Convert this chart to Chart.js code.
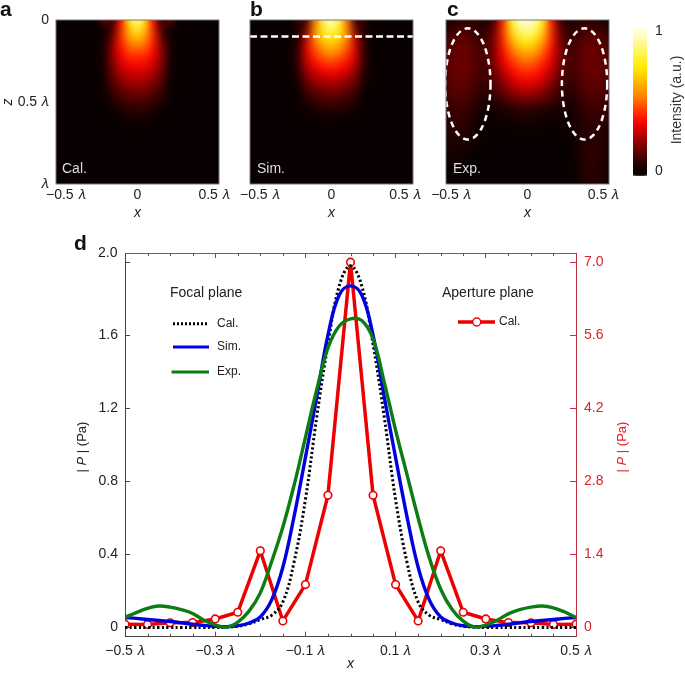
<!DOCTYPE html>
<html>
<head>
<meta charset="utf-8">
<title>Focal plane pressure</title>
<script src="https://cdn.jsdelivr.net/npm/chart.js@4"></script>
<style>
    body { margin: 0; background: #fff; }
    canvas { position: absolute; }
</style>
</head>
<body>
<canvas id="panel-a" style="left:0px;top:0px" width="240" height="222"></canvas>
<canvas id="panel-b" style="left:236px;top:0px" width="200" height="222"></canvas>
<canvas id="panel-c" style="left:426px;top:0px" width="200" height="222"></canvas>
<canvas id="panel-bar" style="left:620px;top:0px" width="65" height="222"></canvas>
<canvas id="panel-d" style="left:0px;top:225px" width="685" height="448"></canvas>
<script>
const lam = "\u{1D706}";

// heat maps, intensity in percent: one list per x column, running down z, missing rows are 0
const heatX = [-0.5, -0.45, -0.4, -0.35, -0.3, -0.25, -0.2, -0.15, -0.1, -0.05, 0, 0.05, 0.1, 0.15, 0.2, 0.25, 0.3, 0.35, 0.4, 0.45, 0.5];
const heatZ = [0, 0.05, 0.1, 0.15, 0.2, 0.25, 0.3, 0.35, 0.4, 0.45, 0.5, 0.55, 0.6, 0.65, 0.7, 0.75, 0.8, 0.85, 0.9, 0.95, 1];

const calColumns = [
    [], [], [], [], [], [],
    [22, 1, 1, 2, 2, 2, 2, 1, 1],
    [5, 8, 14, 20, 22, 20, 18, 15, 11, 7, 4, 1],
    [35, 38, 40, 38, 35, 31, 27, 22, 17, 12, 7, 3, 1],
    [75, 68, 60, 52, 44, 38, 32, 26, 21, 15, 10, 6, 2],
    [100, 82, 68, 55, 45, 38, 32, 27, 22, 16, 11, 6, 2, 1],
    [75, 68, 60, 52, 44, 38, 32, 26, 21, 15, 10, 6, 2],
    [35, 38, 40, 38, 35, 31, 27, 22, 17, 12, 7, 3, 1],
    [5, 8, 14, 20, 22, 20, 18, 15, 11, 7, 4, 1],
    [22, 1, 1, 2, 2, 2, 2, 1, 1],
    [], [], [], [], [], [],
];
const simColumns = [
    [], [], [], [], [], [],
    [10, 2, 4, 6, 7, 7, 5, 3, 2],
    [8, 14, 24, 30, 31, 28, 24, 19, 13, 8, 4, 1],
    [50, 54, 55, 50, 44, 38, 31, 25, 18, 12, 7, 3],
    [85, 80, 72, 62, 53, 44, 36, 28, 21, 14, 9, 4, 1],
    [100, 90, 78, 68, 58, 47, 38, 30, 23, 16, 10, 5, 1],
    [85, 80, 72, 62, 53, 44, 36, 28, 21, 14, 9, 4, 1],
    [50, 54, 55, 50, 44, 38, 31, 25, 18, 12, 7, 3],
    [8, 14, 24, 30, 31, 28, 24, 19, 13, 8, 4, 1],
    [10, 2, 4, 6, 7, 7, 5, 3, 2],
    [], [], [], [], [], [],
];
const expColumns = [
    [1, 4, 8, 10, 11, 12, 12, 11, 10, 9, 8, 6, 5, 4, 3, 2, 1, 1],
    [3, 7, 11, 13, 14, 15, 15, 14, 13, 12, 10, 8, 7, 6, 5, 4, 3, 2, 1, 1],
    [5, 9, 13, 15, 16, 16, 16, 15, 14, 12, 10, 8, 7, 6, 4, 3, 2, 1, 1],
    [5, 9, 12, 14, 15, 15, 15, 14, 13, 11, 9, 6, 5, 4, 3, 2, 1],
    [5, 5, 7, 9, 10, 10, 10, 9, 8, 6, 4, 3, 2, 1, 1, 1],
    [3, 5, 7, 9, 10, 10, 9, 8, 6, 5, 3, 2, 1, 1],
    [10, 14, 17, 19, 20, 19, 17, 14, 11, 8, 5, 2, 1, 1],
    [38, 40, 40, 38, 35, 32, 28, 23, 18, 13, 7, 3, 2, 1],
    [78, 72, 64, 56, 48, 42, 36, 30, 25, 19, 11, 4, 2, 1],
    [97, 90, 80, 68, 58, 49, 42, 36, 29, 22, 13, 5, 3, 1],
    [100, 95, 85, 73, 62, 52, 44, 37, 30, 24, 14, 6, 3, 1],
    [97, 90, 80, 68, 58, 49, 42, 36, 29, 22, 13, 5, 3, 1],
    [78, 72, 64, 56, 48, 42, 36, 30, 25, 19, 11, 4, 2, 1],
    [38, 40, 40, 38, 35, 32, 28, 23, 18, 13, 7, 3, 2, 1],
    [10, 14, 17, 19, 20, 19, 17, 14, 11, 8, 5, 2, 1, 1],
    [3, 5, 7, 9, 10, 10, 9, 8, 6, 5, 3, 2, 1, 1],
    [5, 5, 7, 9, 10, 10, 10, 9, 8, 6, 4, 3, 3, 2, 2, 2, 2, 1, 1, 1, 1],
    [5, 9, 12, 14, 15, 15, 15, 14, 13, 11, 9, 7, 6, 5, 5, 5, 5, 5, 5, 4, 4],
    [5, 9, 13, 15, 16, 16, 16, 15, 14, 12, 10, 8, 7, 6, 6, 6, 6, 6, 6, 5, 5],
    [3, 7, 11, 13, 14, 15, 15, 14, 13, 12, 10, 8, 7, 6, 5, 5, 5, 5, 4, 4, 4],
    [1, 4, 8, 10, 11, 12, 12, 11, 10, 9, 8, 6, 5, 4, 3, 3, 3, 2, 2, 2, 2],
];

// colour bar, same cells but only two columns
const barX = [-0.5, 0.5];
const barLevels = [0, 5, 10, 15, 20, 25, 30, 35, 40, 45, 50, 55, 60, 65, 70, 75, 80, 85, 90, 95, 100];
const barZ = [0, 0.05, 0.1, 0.15, 0.2, 0.25, 0.3, 0.35, 0.4, 0.45, 0.5, 0.55, 0.6, 0.65, 0.7, 0.75, 0.8, 0.85, 0.9, 0.95, 1];

const colourStops = [0, 18, 35, 55, 75, 100];
const colourValues = [[8, 0, 0], [120, 0, 0], [255, 0, 0], [255, 140, 0], [255, 240, 0], [255, 255, 225]];

// panel d
const focalX = [-0.5, -0.475, -0.45, -0.425, -0.4, -0.375, -0.35, -0.325, -0.3, -0.275, -0.25, -0.225, -0.2, -0.175, -0.15, -0.125, -0.1, -0.075, -0.05, -0.025, 0,
    0.025, 0.05, 0.075, 0.1, 0.125, 0.15, 0.175, 0.2, 0.225, 0.25, 0.275, 0.3, 0.325, 0.35, 0.375, 0.4, 0.425, 0.45, 0.475, 0.5];
const focalCal = [0, 0, 0, 0, 0, 0, 0, 0, 0, 0.002, 0.007, 0.02, 0.044, 0.067, 0.14, 0.36, 0.7, 1.15, 1.55, 1.87, 1.98,
    1.87, 1.55, 1.15, 0.7, 0.36, 0.14, 0.067, 0.044, 0.02, 0.007, 0.002, 0, 0, 0, 0, 0, 0, 0, 0, 0];
const focalSim = [0.055, 0.05, 0.044, 0.039, 0.033, 0.026, 0.018, 0.012, 0.007, 0.005, 0.01, 0.025, 0.058, 0.15, 0.33, 0.61, 0.93, 1.26, 1.6, 1.82, 1.87,
    1.82, 1.6, 1.26, 0.93, 0.61, 0.33, 0.15, 0.058, 0.025, 0.01, 0.005, 0.007, 0.012, 0.018, 0.026, 0.033, 0.039, 0.044, 0.05, 0.055];
const focalExp = [0.055, 0.082, 0.105, 0.118, 0.112, 0.098, 0.077, 0.04, 0.015, 0.002, 0.03, 0.09, 0.19, 0.36, 0.55, 0.78, 1.04, 1.3, 1.53, 1.65, 1.69,
    1.68, 1.58, 1.34, 1.08, 0.84, 0.6, 0.38, 0.21, 0.1, 0.035, 0.003, 0.014, 0.04, 0.075, 0.098, 0.112, 0.118, 0.108, 0.085, 0.055];
const apertureX = [-0.5, -0.45, -0.4, -0.35, -0.3, -0.25, -0.2, -0.15, -0.1, -0.05, 0, 0.05, 0.1, 0.15, 0.2, 0.25, 0.3, 0.35, 0.4, 0.45, 0.5];
const apertureCal = [0.063, 0.06, 0.09, 0.095, 0.165, 0.293, 1.47, 0.127, 0.823, 2.535, 7, 2.535, 0.823, 0.127, 1.47, 0.293, 0.165, 0.095, 0.09, 0.06, 0.063];

const majorX = [-0.5, -0.3, -0.1, 0.1, 0.3, 0.5];
const minorX = [-0.45, -0.4, -0.35, -0.25, -0.2, -0.15, -0.05, 0, 0.05, 0.15, 0.2, 0.25, 0.35, 0.4, 0.45];
const leftTicks = [0, 0.4, 0.8, 1.2, 1.6, 2];
const rightTicks = [0, 1.4, 2.8, 4.2, 5.6, 7];

// tick spots of the small panels sit a little inside the frame, like in the figure
const panelTickX = {
    a: [-0.44, 0, 0.47],
    b: [-0.44, 0, 0.45],
    c: [-0.47, 0, 0.466],
};
const scanLine = [0.1];
const ellipseX = [-0.366, 0.35];
const ellipseZ = [0.39, 0.39];
const ellipseRadiusX = 0.139;
const ellipseRadiusZ = 0.339;

Chart.defaults.font.family = "'Liberation Sans', Arial, sans-serif";
Chart.defaults.font.size = 14;
Chart.defaults.color = "#222";
Chart.defaults.animation = false;

function heatColour(v) {
    let i = 0;
    while (i < colourStops.length - 2 && v > colourStops[i + 1]) i++;
    const t = (v - colourStops[i]) / (colourStops[i + 1] - colourStops[i]);
    const c = colourValues[i].map((a, k) => Math.round(a + (colourValues[i + 1][k] - a) * t));
    return `rgb(${c[0]},${c[1]},${c[2]})`;
}

function heatDataset(xs, zs, columns, radius) {
    const points = [];
    const colours = [];
    xs.forEach((x, i) => {
        zs.forEach((z, j) => {
            points.push({ x: x, y: z });
            colours.push(heatColour(columns[i][j] || 0));
        });
    });
    return {
        type: "scatter",
        heat: true,
        data: points,
        pointStyle: "rect",
        pointRadius: radius,
        pointBorderWidth: 0,
        pointBackgroundColor: colours,
        order: 5,
    };
}

// soften the cells once the library has drawn them, a few passes so the frame edge fills in too
const heatBlur = {
    id: "heatBlur",
    afterDatasetDraw(chart, args) {
        if (!chart.data.datasets[args.index].heat) return;
        const { ctx, chartArea: a } = chart;
        ctx.save();
        ctx.beginPath();
        ctx.rect(a.left, a.top, a.right - a.left, a.bottom - a.top);
        ctx.clip();
        ctx.filter = "blur(2.5px)";
        for (let pass = 0; pass < 3; pass++) ctx.drawImage(chart.canvas, 0, 0);
        ctx.restore();
    },
};

function drawRuns(ctx, x, y, runs, size, colour, rotate) {
    ctx.save();
    ctx.translate(x, y);
    if (rotate) ctx.rotate(-Math.PI / 2);
    ctx.fillStyle = colour;
    ctx.textBaseline = "middle";
    ctx.textAlign = "left";
    const family = Chart.defaults.font.family;
    let total = 0;
    runs.forEach((r) => {
        ctx.font = `${r[1] || ""} ${size}px ${family}`;
        total += ctx.measureText(r[0]).width;
    });
    let at = rotate ? -total / 2 : 0;
    runs.forEach((r) => {
        ctx.font = `${r[1] || ""} ${size}px ${family}`;
        ctx.fillText(r[0], at, 0);
        at += ctx.measureText(r[0]).width;
    });
    ctx.restore();
}

// notes: [x, y, text, size, colour, weight]
const notesPlugin = {
    id: "notes",
    afterDraw(chart, args, opts) {
        const { ctx, chartArea: a } = chart;
        if (opts.frame) {
            ctx.save();
            ctx.strokeStyle = "#777";
            ctx.strokeRect(a.left, a.top, a.right - a.left, a.bottom - a.top);
            ctx.restore();
        }
        (opts.items || []).forEach((n) => {
            drawRuns(ctx, n[0], n[1], [[n[2], n[5]]], n[3], n[4]);
        });
    },
};

const ellipsesPlugin = {
    id: "ellipses",
    afterDatasetsDraw(chart, args, opts) {
        if (!opts.show) return;
        const { ctx, scales } = chart;
        ctx.save();
        ctx.strokeStyle = "#fff";
        ctx.lineWidth = 2.5;
        ctx.setLineDash([6, 4.5]);
        ellipseX.forEach((cx, i) => {
            const px = scales.x.getPixelForValue(cx);
            const py = scales.y.getPixelForValue(ellipseZ[i]);
            const rx = scales.x.getPixelForValue(cx + ellipseRadiusX) - px;
            const ry = scales.y.getPixelForValue(ellipseZ[i] + ellipseRadiusZ) - py;
            ctx.beginPath();
            ctx.ellipse(px, py, rx, ry, 0, 0, Math.PI * 2);
            ctx.stroke();
        });
        ctx.restore();
    },
};

function heatPanel(id, columns, key, padding, showZ, items, extra) {
    const tickSpots = panelTickX[key];
    const tickText = ["\u22120.5 " + lam, "0", "0.5 " + lam];
    const datasets = [heatDataset(heatX, heatZ, columns, 6.6)];
    if (extra.line) {
        datasets.unshift({
            type: "line",
            data: [{ x: -0.5, y: scanLine[0] }, { x: 0.5, y: scanLine[0] }],
            borderColor: "#fff",
            borderWidth: 2.5,
            borderDash: [7, 3.5],
            pointRadius: 0,
            order: 1,
        });
    }
    return new Chart(document.getElementById(id), {
        data: { datasets: datasets },
        options: {
            responsive: false,
            layout: { padding: padding },
            plugins: {
                legend: { display: false },
                tooltip: { enabled: false },
                notes: { frame: true, items: items },
                ellipses: { show: !!extra.ellipses },
            },
            scales: {
                x: {
                    type: "linear",
                    z: 1,
                    min: -0.5,
                    max: 0.5,
                    afterBuildTicks: (scale) => { scale.ticks = tickSpots.map((v) => ({ value: v })); },
                    afterFit: (scale) => { scale.height = 38; },
                    ticks: {
                        autoSkip: false,
                        maxRotation: 0,
                        minRotation: 0,
                        padding: 3,
                        callback: (v, i) => tickText[i],
                    },
                    grid: { display: false, drawTicks: false },
                    border: { display: false },
                    title: { display: true, text: "x", padding: 0, font: { style: "italic", size: 14 } },
                },
                y: {
                    type: "linear",
                    z: 1,
                    display: showZ,
                    reverse: true,
                    min: 0,
                    max: 1,
                    afterBuildTicks: (scale) => { scale.ticks = [0, 0.5, 1].map((v) => ({ value: v })); },
                    afterFit: (scale) => { scale.width = showZ ? 56 : 0; },
                    ticks: {
                        padding: 7,
                        callback: (v) => (v === 0 ? "0" : v === 1 ? lam : "0.5 " + lam),
                    },
                    grid: { display: false, drawTicks: false },
                    border: { display: false },
                    title: { display: true, text: "z", padding: 0, font: { style: "italic", size: 14 } },
                },
            },
        },
        plugins: [heatBlur, ellipsesPlugin, notesPlugin],
    });
}

heatPanel("panel-a", calColumns, "a", { top: 20, right: 21 }, true,
    [[0, 10, "a", 21, "#111", "bold"], [62, 169, "Cal.", 14, "#ddd"]], {});
heatPanel("panel-b", simColumns, "b", { top: 20, left: 14, right: 23 }, false,
    [[14, 10, "b", 21, "#111", "bold"], [21, 169, "Sim.", 14, "#ddd"]], { line: true });
heatPanel("panel-c", expColumns, "c", { top: 20, left: 20, right: 17 }, false,
    [[21, 10, "c", 21, "#111", "bold"], [27, 169, "Exp.", 14, "#ddd"]], { ellipses: true });

new Chart(document.getElementById("panel-bar"), {
    data: { datasets: [heatDataset(barX, barZ, [barLevels, barLevels], 5.2)] },
    options: {
        responsive: false,
        layout: { padding: { top: 28, left: 13, bottom: 46 } },
        plugins: {
            legend: { display: false },
            tooltip: { enabled: false },
            notes: { items: [] },
        },
        scales: {
            x: {
                type: "linear",
                display: false,
                min: -1,
                max: 1,
            },
            y: {
                type: "linear",
                position: "right",
                z: 1,
                min: -0.036,
                max: 1.021,
                afterBuildTicks: (scale) => { scale.ticks = [0, 1].map((v) => ({ value: v })); },
                afterFit: (scale) => { scale.width = 38; },
                ticks: { padding: 8 },
                grid: { display: false, drawTicks: false },
                border: { display: false },
            },
        },
    },
    plugins: [heatBlur, notesPlugin, {
        id: "barTitle",
        afterDraw(chart) {
            drawRuns(chart.ctx, 57, 100, [["Intensity (a.u.)"]], 14, "#333", true);
        },
    }],
});

const xyPairs = (xs, ys) => xs.map((x, i) => ({ x: x, y: ys[i] }));

// minor ticks, legend and the side titles of panel d
const panelDPlugin = {
    id: "panelD",
    afterDraw(chart) {
        const { ctx, scales, chartArea: a } = chart;
        ctx.save();
        ctx.strokeStyle = "#555";
        ctx.lineWidth = 1;
        minorX.forEach((v) => {
            const px = Math.round(scales.x.getPixelForValue(v)) + 0.5;
            ctx.beginPath();
            ctx.moveTo(px, a.bottom);
            ctx.lineTo(px, a.bottom - 3);
            ctx.moveTo(px, a.top);
            ctx.lineTo(px, a.top + 3);
            ctx.stroke();
        });
        const legendLines = [
            { x1: 173, x2: 209, y: 98.7, colour: "#000", width: 3, dash: [2, 2] },
            { x1: 173, x2: 209, y: 122, colour: "#0000e0", width: 3 },
            { x1: 171.5, x2: 209, y: 147, colour: "#0b7d12", width: 3 },
            { x1: 458, x2: 495, y: 97, colour: "#ee0000", width: 3.5 },
        ];
        legendLines.forEach((l) => {
            ctx.beginPath();
            ctx.setLineDash(l.dash || []);
            ctx.strokeStyle = l.colour;
            ctx.lineWidth = l.width;
            ctx.moveTo(l.x1, l.y);
            ctx.lineTo(l.x2, l.y);
            ctx.stroke();
        });
        ctx.setLineDash([]);
        ctx.beginPath();
        ctx.arc(476.7, 97, 4, 0, Math.PI * 2);
        ctx.fillStyle = "#fff";
        ctx.fill();
        ctx.strokeStyle = "#ee0000";
        ctx.lineWidth = 1.5;
        ctx.stroke();
        ctx.restore();

        const ink = "#222";
        drawRuns(ctx, 74, 19, [["d", "bold"]], 21, "#111");
        drawRuns(ctx, 98, 28, [["2.0"]], 14, ink);
        drawRuns(ctx, 170, 67.7, [["Focal plane"]], 14, ink);
        drawRuns(ctx, 442, 67.7, [["Aperture plane"]], 14, ink);
        drawRuns(ctx, 217, 98.7, [["Cal."]], 12, ink);
        drawRuns(ctx, 217, 122, [["Sim."]], 12, ink);
        drawRuns(ctx, 217, 147, [["Exp."]], 12, ink);
        drawRuns(ctx, 499, 97, [["Cal."]], 12, ink);
        drawRuns(ctx, 82, 222, [["| "], ["P", "italic"], [" | (Pa)"]], 13, ink, true);
        drawRuns(ctx, 622, 222, [["| "], ["P", "italic"], [" | (Pa)"]], 13, "#e0202a", true);
    },
};

new Chart(document.getElementById("panel-d"), {
    type: "line",
    data: {
        datasets: [
            { label: "Exp.", data: xyPairs(focalX, focalExp), borderColor: "#0b7d12", borderWidth: 3.4, tension: 0.4, pointRadius: 0, yAxisID: "y", order: 1 },
            { label: "Sim.", data: xyPairs(focalX, focalSim), borderColor: "#0000e0", borderWidth: 3.4, tension: 0.4, pointRadius: 0, yAxisID: "y", order: 2 },
            { label: "Cal.", data: xyPairs(focalX, focalCal), borderColor: "#000", borderWidth: 3, borderDash: [2.2, 2.4], tension: 0.4, pointRadius: 0, yAxisID: "y", order: 3 },
            {
                label: "Cal. aperture",
                data: xyPairs(apertureX, apertureCal),
                borderColor: "#ee0000",
                borderWidth: 3.5,
                tension: 0,
                pointRadius: 3.8,
                pointBorderWidth: 1.6,
                pointBackgroundColor: "#fff",
                pointBorderColor: "#ee0000",
                yAxisID: "y1",
                order: 4,
            },
        ],
    },
    options: {
        responsive: false,
        layout: { padding: { top: 28 } },
        plugins: {
            legend: { display: false },
            tooltip: { enabled: false },
        },
        scales: {
            x: {
                type: "linear",
                min: -0.5,
                max: 0.5,
                afterBuildTicks: (scale) => { scale.ticks = majorX.map((v) => ({ value: v })); },
                afterFit: (scale) => { scale.height = 36.3; },
                ticks: {
                    autoSkip: false,
                    maxRotation: 0,
                    minRotation: 0,
                    padding: 11,
                    callback: (v, i) => (majorX[i] < 0 ? "\u2212" : "") + Math.abs(majorX[i]).toFixed(1) + " " + lam,
                },
                grid: { drawOnChartArea: false, tickLength: -5, tickColor: "#555" },
                border: { color: "#444" },
                title: { display: true, text: "x", padding: 0, font: { style: "italic", size: 14 } },
            },
            xTop: {
                type: "linear",
                position: "top",
                min: -0.5,
                max: 0.5,
                afterBuildTicks: (scale) => { scale.ticks = majorX.map((v) => ({ value: v })); },
                afterFit: (scale) => { scale.height = 0; },
                ticks: { display: false },
                grid: { drawOnChartArea: false, tickLength: -5, tickColor: "#555" },
                border: { color: "#666" },
            },
            y: {
                type: "linear",
                position: "left",
                min: -0.05,
                max: 2.05,
                afterBuildTicks: (scale) => { scale.ticks = leftTicks.map((v) => ({ value: v })); },
                afterFit: (scale) => { scale.width = 125; },
                ticks: {
                    padding: 12,
                    // 2.0 sits higher than its tick in the figure, it is drawn with the notes
                    callback: (v) => (v === 2 ? "" : v === 0 ? "0" : v.toFixed(1)),
                },
                grid: { drawOnChartArea: false, tickLength: -5, tickColor: "#444" },
                border: { color: "#444" },
            },
            y1: {
                type: "linear",
                position: "right",
                min: -0.175,
                max: 7.175,
                afterBuildTicks: (scale) => { scale.ticks = rightTicks.map((v) => ({ value: v })); },
                afterFit: (scale) => { scale.width = 109; },
                ticks: {
                    padding: 14,
                    color: "#e0202a",
                    callback: (v) => (v === 0 ? "0" : v.toFixed(1)),
                },
                grid: { drawOnChartArea: false, tickLength: -6, tickColor: "#c8323c" },
                border: { color: "#b8323c" },
            },
        },
    },
    plugins: [panelDPlugin],
});
</script>
</body>
</html>
